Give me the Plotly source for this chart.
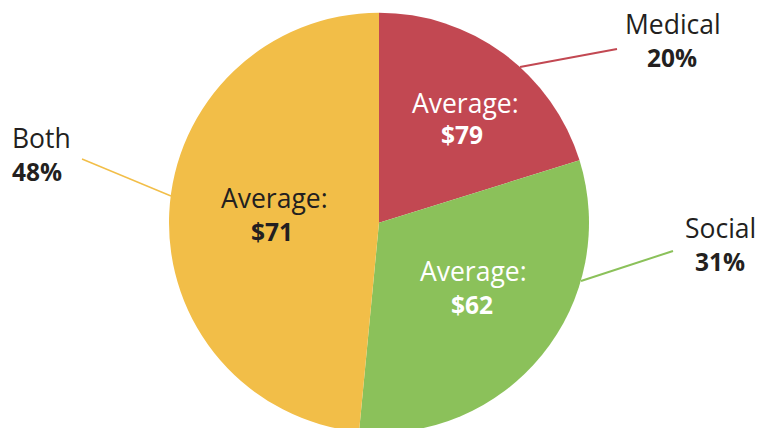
import plotly.graph_objects as go

categories = ["Medical", "Social", "Both"]
shares = [20, 31, 48]
averages = [79, 62, 71]
share_labels = ["20%", "31%", "48%"]

colors = ["#C24852", "#8BC15A", "#F2BE48"]
inside_text_colors = ["#FFFFFF", "#FFFFFF", "#231F20"]
DARK = "#231F20"
FONT = "Open Sans"
W, H = 757, 437  # the pie runs slightly past the bottom edge of the 428px view
OFF = 0

REG, BOLD = 26.5, 24.5

# pie geometry in viewport pixels (centre x, centre y, radius)
cx, cy, r = 379, 222.7, 210


def px(x):
    return (x - OFF) / W


def py(y):
    return 1 - (y - OFF) / H


def text_at(text, x, baseline, size, anchor="center", color=DARK):
    fig.add_annotation(
        x=px(x), y=py(baseline - 0.388 * size), xref="paper", yref="paper",
        xanchor=anchor, yanchor="middle", borderpad=0,
        text=text, showarrow=False,
        font=dict(family=FONT, size=size, color=color),
    )


fig = go.Figure()
fig.add_trace(go.Pie(
    labels=categories,
    values=shares,
    sort=False,
    direction="clockwise",
    rotation=0,
    marker=dict(colors=colors, line=dict(width=0)),
    textinfo="none",
    hoverinfo="label+percent",
    showlegend=False,
    domain=dict(x=[px(cx - r), px(cx + r)], y=[py(cy + r), py(cy - r)]),
))

# label placement (viewport pixels): inside text block and outside label + leader line
layout_spec = {
    "Medical": dict(inside=((465, 113.3), (462, 144.3)),
                    outside=((673, 34.3), (672, 66.7)), anchor="center",
                    line=((520, 67), (617, 49)), lw=2),
    "Social": dict(inside=((473, 281.7), (472, 314.3)),
                   outside=((720.5, 238.3), (719.5, 271)), anchor="center",
                   line=((581, 281), (673, 251)), lw=2),
    "Both": dict(inside=((274.5, 207.8), (272, 241.2)),
                 outside=((11, 148.3), (11, 180.7)), anchor="left",
                 line=((171, 196), (82, 159)), lw=1.4),
}

for cat, avg, lab, col, tcol in zip(categories, averages, share_labels, colors, inside_text_colors):
    s = layout_spec[cat]
    (ax1, ab1), (ax2, ab2) = s["inside"]
    text_at("Average:", ax1, ab1, REG, color=tcol)
    text_at(f"<b>${avg}</b>", ax2, ab2, BOLD, color=tcol)
    (ox1, ob1), (ox2, ob2) = s["outside"]
    text_at(cat, ox1, ob1, REG, anchor=s["anchor"])
    text_at(f"<b>{lab}</b>", ox2, ob2, BOLD, anchor=s["anchor"])
    (x0, y0), (x1, y1) = s["line"]
    fig.add_shape(
        type="line", xref="paper", yref="paper",
        x0=px(x0), y0=py(y0), x1=px(x1), y1=py(y1),
        line=dict(color=col, width=s["lw"]),
    )

fig.update_layout(
    width=W, height=H,
    margin=dict(l=0, r=0, t=0, b=0),
    paper_bgcolor="white",
    plot_bgcolor="white",
)

# remove the default page margin and scrollbars so the figure sits at the window's corner
page_css = (
    "document.documentElement.style.margin='0';"
    "document.documentElement.style.overflow='hidden';"
    "document.body.style.margin='0';"
    "document.body.style.overflow='hidden';"
)

fig.write_html("out.html", post_script=page_css, config={"displayModeBar": False})
